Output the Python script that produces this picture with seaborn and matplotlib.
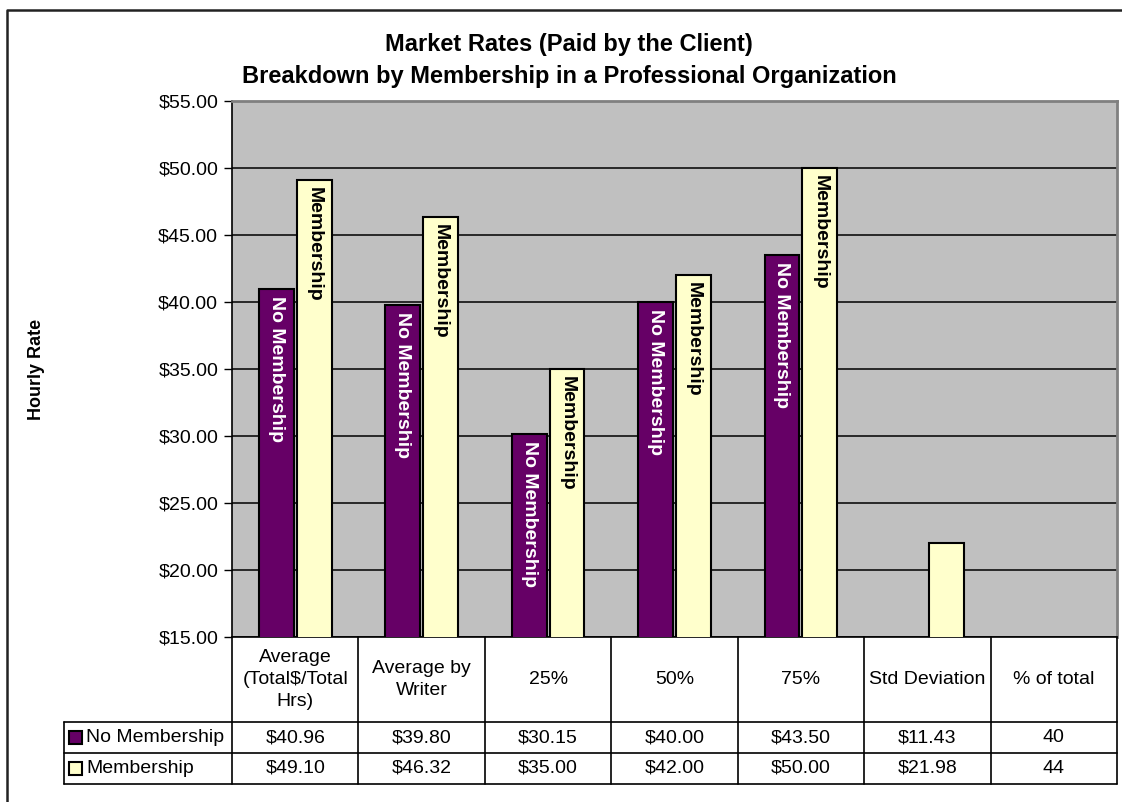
import numpy as np
import pandas as pd
import matplotlib
matplotlib.use("Agg")
import matplotlib.pyplot as plt
from matplotlib.lines import Line2D
from matplotlib.patches import Rectangle
import matplotlib.transforms as mtransforms
import seaborn as sns

# ---------------- data ----------------
categories = ["Average\n(Total$/Total\nHrs)", "Average by\nWriter", "25%", "50%", "75%",
              "Std Deviation", "% of total"]
series_names = ["No Membership", "Membership"]
no_membership = [40.96, 39.80, 30.15, 40.00, 43.50, 11.43, 40]
membership = [49.10, 46.32, 35.00, 42.00, 50.00, 21.98, 44]
table_no = ["$40.96", "$39.80", "$30.15", "$40.00", "$43.50", "$11.43", "40"]
table_mem = ["$49.10", "$46.32", "$35.00", "$42.00", "$50.00", "$21.98", "44"]
plotted = [True, True, True, True, True, True, False]   # "% of total" is not charted
yticks = [15, 20, 25, 30, 35, 40, 45, 50, 55]

colors = {"No Membership": "#660066", "Membership": "#FFFFCC"}
label_colors = {"No Membership": "white", "Membership": "black"}

rows = []
for i, c in enumerate(categories):
    if plotted[i]:
        rows.append({"cat": c, "series": "No Membership", "value": no_membership[i]})
        rows.append({"cat": c, "series": "Membership", "value": membership[i]})
df = pd.DataFrame(rows)

# ---------------- figure ----------------
W, H = 1122, 802
sns.set_theme(style="white")
plt.rcParams["font.family"] = ["Liberation Sans", "DejaVu Sans"]
plt.rcParams["text.parse_math"] = False
plt.rcParams["text.color"] = "black"
plt.rcParams["axes.labelcolor"] = "black"
plt.rcParams["xtick.color"] = "black"
plt.rcParams["ytick.color"] = "black"

fig = plt.figure(figsize=(W / 100, H / 100), dpi=100)
fig.patch.set_facecolor("white")
ax = fig.add_axes([232 / W, 1 - 637 / H, 885 / W, 536 / H])
ax.set_facecolor("#C0C0C0")

sns.barplot(data=df, x="cat", y="value", hue="series", order=categories,
            hue_order=series_names, palette=colors, saturation=1, width=0.6, gap=0.08,
            edgecolor="black", linewidth=1.5, legend=False, ax=ax, zorder=3,
            errorbar=None)

ax.set_ylim(15, 55)
ax.set_xlim(-0.5, len(categories) - 0.5)
ax.set_yticks(yticks)
ax.set_yticklabels([f"${v:.2f}" for v in yticks], fontsize=14, color="black")
ax.yaxis.grid(True, color="black", linewidth=1.1, zorder=1)
ax.set_axisbelow(True)
ax.tick_params(axis="y", which="both", length=6, width=1, color="black", left=True, pad=4)
ax.tick_params(axis="x", length=0, labelbottom=False)
ax.set_xlabel("")
ax.set_ylabel("Hourly Rate", fontsize=13, fontweight="bold", labelpad=0, color="black")
ax.yaxis.set_label_coords((45 - 232) / 885, 0.5)
ax.spines["left"].set_color("black")
ax.spines["left"].set_linewidth(1.2)
ax.spines["bottom"].set_color("black")
ax.spines["bottom"].set_linewidth(1.2)
for s in ("top", "right"):
    ax.spines[s].set_color("#808080")
    ax.spines[s].set_linewidth(2)

# bar labels (rotated, inside top)
bars = [p for p in ax.patches if isinstance(p, Rectangle) and p.get_height() > 0]
fig.canvas.draw()
renderer = fig.canvas.get_renderer()
px_per_unit = ax.transData.transform((0, 1))[1] - ax.transData.transform((0, 0))[1]
for p in bars:
    x = p.get_x() + p.get_width() / 2
    top = p.get_y() + p.get_height()
    cat_idx = int(round(x))
    series = "No Membership" if x < cat_idx else "Membership"
    visible = (top - 15) * px_per_unit
    t = ax.annotate(series, xy=(x, top), xytext=(0, -5), textcoords="offset points",
                    ha="center", va="top", rotation=270, fontsize=14,
                    fontweight="bold", color=label_colors[series], zorder=5)
    ext = t.get_window_extent(renderer)
    if ext.height + 10 > visible:
        t.remove()

# ---------------- data table ----------------
T = mtransforms.Affine2D().scale(1 / W, -1 / H).translate(0, 1) + fig.transFigure
colx = [ax.transData.transform((i - 0.5, 0))[0] for i in range(len(categories) + 1)]
y_axis_bottom, y_head, y_r1, y_r2 = 637, 722, 753, 784
x_leg = 64
lc = "black"

def line(xs, ys, lw=1.2, color=lc):
    fig.add_artist(Line2D(xs, ys, transform=T, color=color, linewidth=lw))

for cx in colx:
    line([cx, cx], [y_axis_bottom, y_r2])
line([x_leg, colx[-1]], [y_head, y_head])
line([x_leg, colx[-1]], [y_r1, y_r1])
line([x_leg, colx[-1]], [y_r2, y_r2])
line([x_leg, x_leg], [y_head, y_r2])

for i, c in enumerate(categories):
    cx = (colx[i] + colx[i + 1]) / 2
    fig.text(cx / W, 1 - (y_axis_bottom + y_head) / 2 / H, c, ha="center", va="center",
             fontsize=14, linespacing=1.4, color="black")
    fig.text(cx / W, 1 - (y_head + y_r1) / 2 / H, table_no[i], ha="center",
             va="center", fontsize=14, color="black")
    fig.text(cx / W, 1 - (y_r1 + y_r2) / 2 / H, table_mem[i], ha="center",
             va="center", fontsize=14, color="black")

for k, (name, y0, y1) in enumerate([("No Membership", y_head, y_r1),
                                    ("Membership", y_r1, y_r2)]):
    yc = (y0 + y1) / 2
    fig.add_artist(Rectangle((69, yc - 6.5), 13, 13, transform=T,
                             facecolor=colors[name], edgecolor="black", linewidth=1.5))
    fig.text(86 / W, 1 - yc / H, name, ha="left", va="center", fontsize=14, color="black")

# ---------------- titles & border ----------------
fig.text(569 / W, 1 - 44 / H, "Market Rates (Paid by the Client)", ha="center",
         va="center", fontsize=17, fontweight="bold", color="black")
fig.text(569 / W, 1 - 77 / H, "Breakdown by Membership in a Professional Organization",
         ha="center", va="center", fontsize=17, fontweight="bold", color="black")
line([8, W], [9.5, 9.5], lw=1.8, color="#222222")
line([7.5, 7.5], [9.5, H], lw=1.8, color="#222222")

fig.savefig("out.png", dpi=100, facecolor="white")
